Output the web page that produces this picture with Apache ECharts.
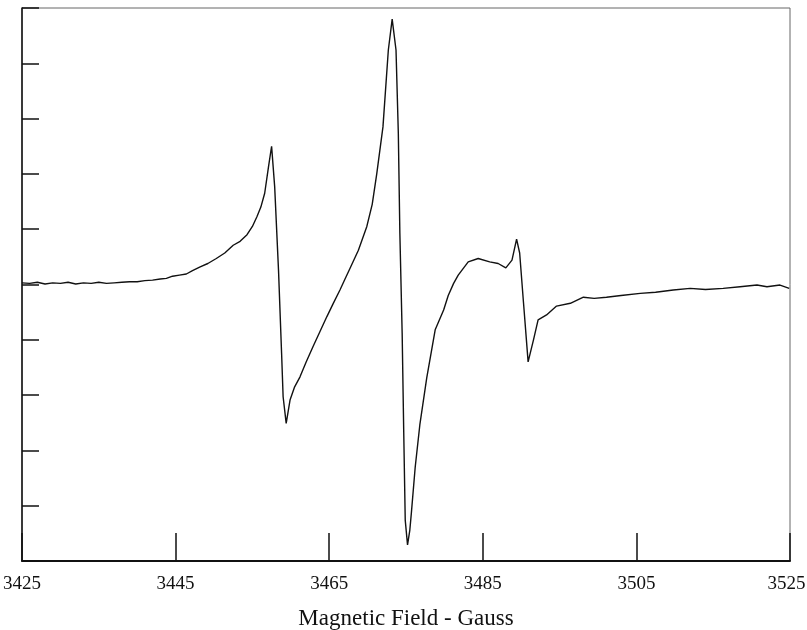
<!DOCTYPE html>
<html>
<head>
<meta charset="utf-8">
<script src="https://cdn.jsdelivr.net/npm/echarts@6/dist/echarts.min.js"></script>
<style>
html,body{margin:0;padding:0;background:#fff;overflow:hidden;}
#chart{width:807px;height:630px;}
</style>
</head>
<body>
<div id="chart"></div>
<script>
// Magnetic field (Gauss)
var fieldG = [
  3425.0,3426.0,3427.0,3428.0,3429.0,3430.0,3431.0,3432.0,3433.0,3434.0,
  3435.0,3436.0,3437.0,3438.0,3439.0,3440.0,3441.0,3442.0,3443.0,3443.8,
  3444.6,3445.5,3446.4,3447.2,3448.2,3449.2,3450.3,3451.4,3452.5,3453.4,
  3454.3,3455.0,3455.6,3456.1,3456.6,3457.1,3457.5,3457.9,3458.4,3458.8,
  3459.0,3459.4,3459.9,3460.5,3461.2,3462.0,3462.9,3463.8,3464.7,3465.5,
  3466.4,3467.0,3467.7,3468.8,3469.9,3470.6,3471.2,3472.0,3472.7,3473.2,
  3473.7,3474.0,3474.2,3474.5,3474.7,3474.9,3475.2,3475.5,3475.7,3476.2,
  3476.8,3477.7,3478.8,3479.9,3480.5,3481.2,3481.8,3483.1,3484.4,3485.9,
  3487.0,3488.0,3488.8,3489.4,3489.8,3490.3,3490.9,3491.6,3492.2,3493.3,
  3494.6,3496.4,3498.1,3499.5,3501.1,3503.0,3505.5,3507.5,3509.8,3512.0,
  3514.0,3516.3,3518.5,3520.7,3522.0,3523.7,3524.9
];
// EPR derivative signal (arbitrary units, axis 0..10)
var signal = [
  5.03,5.02,5.04,5.01,5.03,5.02,5.04,5.01,5.03,5.02,
  5.04,5.02,5.03,5.04,5.05,5.05,5.07,5.08,5.10,5.11,
  5.15,5.17,5.19,5.25,5.32,5.38,5.47,5.57,5.71,5.78,
  5.90,6.05,6.23,6.40,6.65,7.13,7.50,6.77,5.26,3.76,
  2.97,2.49,2.91,3.15,3.33,3.60,3.88,4.15,4.42,4.65,
  4.90,5.08,5.29,5.62,6.05,6.45,7.01,7.85,9.24,9.80,
  9.24,7.74,5.93,4.12,2.37,0.74,0.29,0.56,0.87,1.70,
  2.46,3.31,4.18,4.54,4.80,5.02,5.17,5.41,5.47,5.41,
  5.38,5.30,5.44,5.82,5.57,4.67,3.60,4.00,4.36,4.45,
  4.61,4.66,4.77,4.75,4.77,4.80,4.84,4.86,4.90,4.93,
  4.91,4.93,4.96,4.99,4.96,4.99,4.93
];
var xTickLabels = ['3425','3445','3465','3485','3505','3525'];
var xName = 'Magnetic Field - Gauss';

var seriesData = fieldG.map(function (g, i) { return [g, signal[i]]; });

var chart = echarts.init(document.getElementById('chart'), null, {renderer: 'canvas'});
chart.setOption({
  animation: false,
  backgroundColor: '#ffffff',
  grid: {
    left: 22, right: 17, top: 8, bottom: 69,
    outerBoundsMode: 'none',
    containLabel: false,
    show: true, borderColor: '#666', borderWidth: 1, backgroundColor: 'transparent'
  },
  xAxis: {
    type: 'value',
    min: 3425, max: 3525, interval: 20,
    name: xName,
    nameLocation: 'middle',
    nameGap: 46,
    nameTextStyle: { fontFamily: 'Liberation Serif', fontSize: 23, color: '#111' },
    axisLine: { show: true, onZero: false, lineStyle: { color: '#111', width: 2 } },
    axisTick: { show: true, inside: true, length: 28, lineStyle: { color: '#111', width: 1.5 } },
    axisLabel: {
      show: true, margin: 14,
      fontFamily: 'Liberation Serif', fontSize: 19, color: '#111',
      formatter: function (v) {
        var s = String(Math.round(v));
        if (xTickLabels.indexOf(s) < 0) return '';
        return s === xTickLabels[xTickLabels.length - 1] ? '{last|' + s + '}' : s;
      },
      rich: {
        last: { fontFamily: 'Liberation Serif', fontSize: 19, color: '#111', padding: [0, 7, 0, 0] }
      }
    },
    splitLine: { show: false }
  },
  yAxis: {
    type: 'value',
    min: 0, max: 10, interval: 1,
    axisLine: { show: true, onZero: false, lineStyle: { color: '#111', width: 1.5 } },
    axisTick: { show: true, inside: true, length: 17, lineStyle: { color: '#111', width: 1.5 } },
    axisLabel: { show: false },
    splitLine: { show: false }
  },
  series: [{
    type: 'line',
    data: seriesData,
    showSymbol: false,
    symbol: 'none',
    smooth: false,
    lineStyle: { color: '#111', width: 1.4 },
    clip: true
  }]
});
</script>
</body>
</html>
